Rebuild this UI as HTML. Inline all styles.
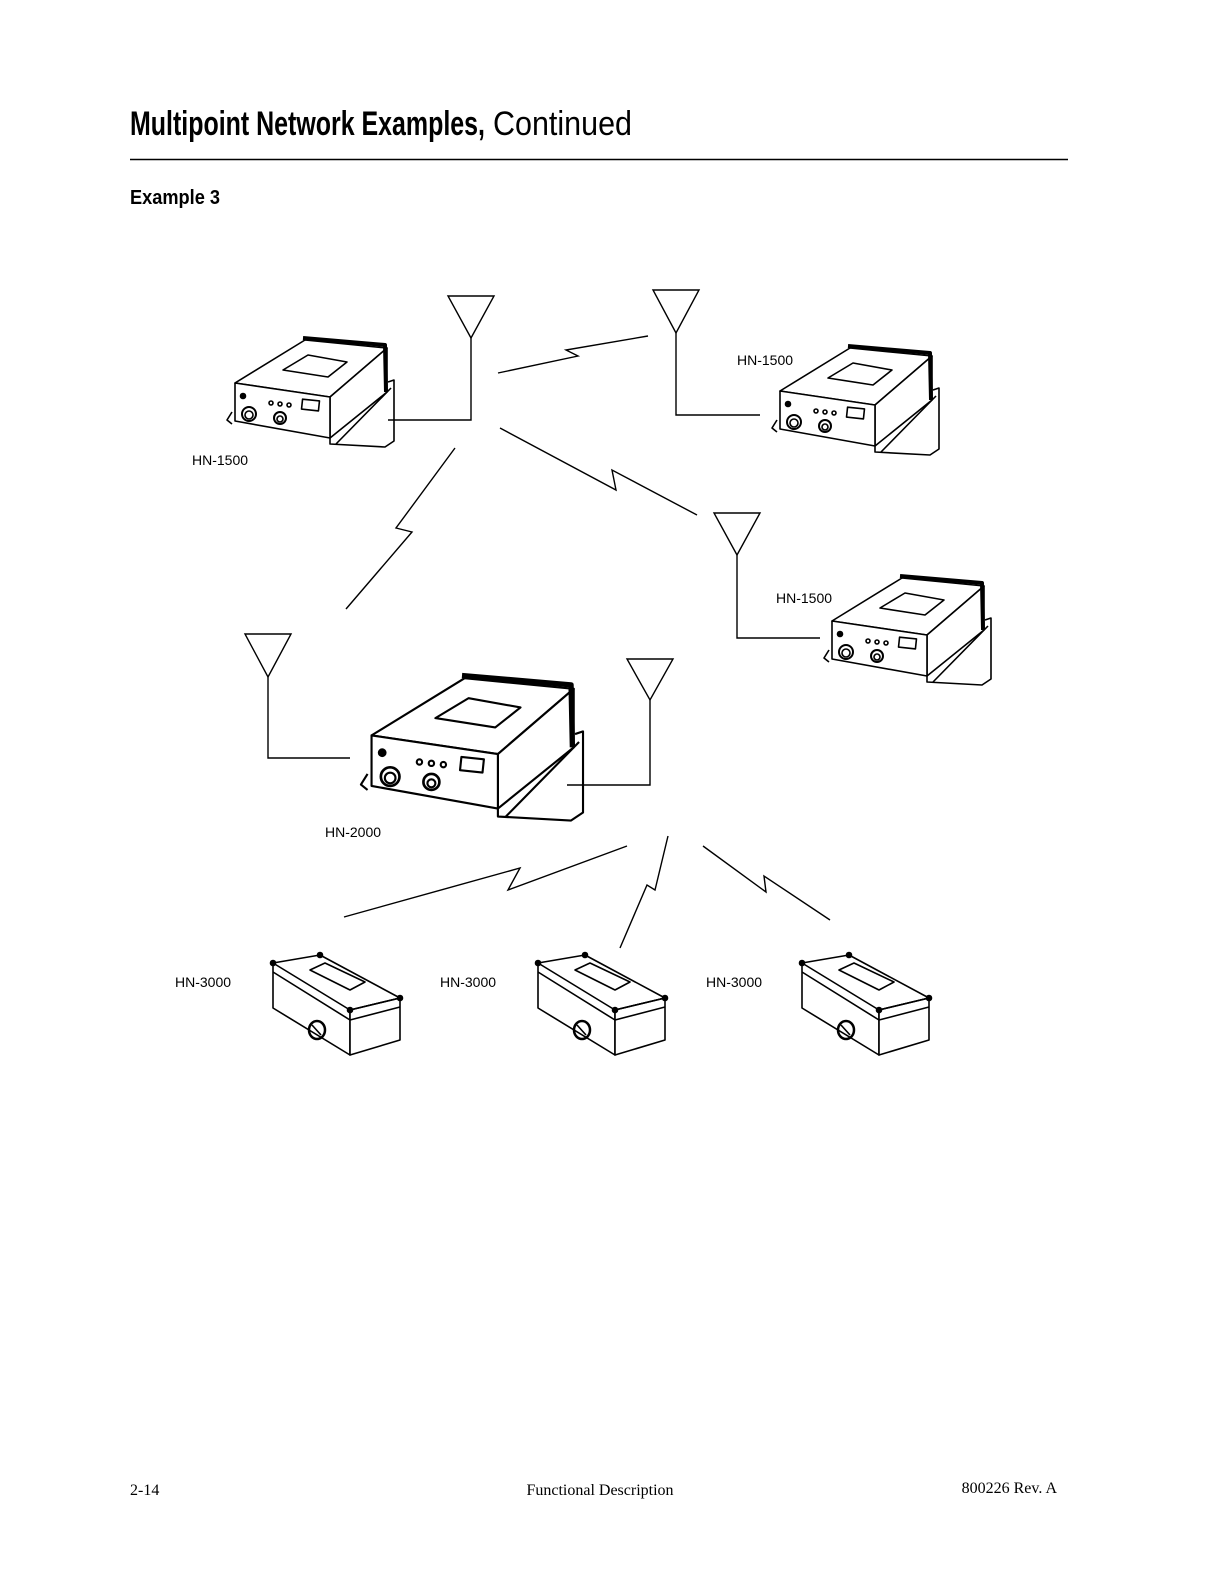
<!DOCTYPE html>
<html><head><meta charset="utf-8"><style>
html,body{margin:0;padding:0;background:#fff}
svg{display:block}
</style></head><body>
<svg width="1224" height="1584" viewBox="0 0 1224 1584" xmlns="http://www.w3.org/2000/svg" font-family="Liberation Sans, sans-serif">
<text x="130" y="135" font-size="34" font-weight="bold" textLength="355" lengthAdjust="spacingAndGlyphs">Multipoint Network Examples,</text>
<text x="493" y="135" font-size="34" textLength="139" lengthAdjust="spacingAndGlyphs">Continued</text>
<line x1="130" y1="159.5" x2="1068" y2="159.5" stroke="#000" stroke-width="1.5"/>
<text x="130" y="204" font-size="20" font-weight="bold" textLength="90" lengthAdjust="spacingAndGlyphs">Example 3</text>

<defs>
<g id="r" fill="none" stroke="#000" stroke-width="1.6" stroke-linejoin="round">
<polygon points="235,383 305,340 387,348 330,397" fill="#fff"/>
<polygon points="330,397 387,348 387,392 330,438" fill="#fff"/>
<polygon points="235,383 330,397 330,438 235,421" fill="#fff"/>
<polyline points="303,338 385,345 386,392" stroke-width="4"/>
<polygon points="283,370 308,355 347,362 328,377"/>
<polyline points="330,438 330,444 385,447 394,441 394,380 388,382"/>
<line x1="336" y1="444" x2="391" y2="388"/>
<polyline points="232,424 227,420 232,412"/>
<circle cx="243" cy="396" r="2.5" fill="#000"/>
<circle cx="249" cy="414" r="7" stroke-width="2"/><circle cx="249" cy="415" r="4"/>
<circle cx="280" cy="418" r="6" stroke-width="2"/><circle cx="280" cy="419" r="3"/>
<circle cx="271" cy="403" r="2"/><circle cx="280" cy="404" r="2"/><circle cx="289" cy="405" r="2"/>
<rect x="302" y="400" width="17" height="10" transform="rotate(6 310 405)"/>
</g>
<g id="b" fill="none" stroke="#000" stroke-width="1.6" stroke-linejoin="round">
<polygon points="273,963 320,955 400,998 350,1010 350,1055 273,1008" fill="#fff"/>
<polygon points="350,1010 400,998 400,1040 350,1055" fill="#fff"/>
<polyline points="273,972 350,1020 400,1007"/>
<polygon points="310,970 325,963 365,982 350,990"/>
<polyline points="273,963 350,1010 400,998"/>
<circle cx="273" cy="963" r="2.5" fill="#000"/><circle cx="320" cy="955" r="2.5" fill="#000"/>
<circle cx="400" cy="998" r="2.5" fill="#000"/><circle cx="350" cy="1010" r="2.5" fill="#000"/>
<ellipse cx="317" cy="1030" rx="8" ry="9" stroke-width="2.5"/>
<line x1="312" y1="1025" x2="321" y2="1035"/>
</g>
</defs>

<use href="#r"/>
<use href="#r" transform="translate(545,8)"/>
<use href="#r" transform="translate(597,238)"/>
<use href="#r" transform="translate(59,226) scale(1.33)"/>
<use href="#b"/>
<use href="#b" transform="translate(265,0)"/>
<use href="#b" transform="translate(529,0)"/>

<g fill="none" stroke="#000" stroke-width="1.4">
<polygon points="448,296 494,296 471,338"/><polyline points="471,338 471,420 388,420"/>
<polygon points="653,290 699,290 676,333"/><polyline points="676,333 676,415 760,415"/>
<polygon points="714,513 760,513 737,555"/><polyline points="737,555 737,638 820,638"/>
<polygon points="245,634 291,634 268,677"/><polyline points="268,677 268,758 350,758"/>
<polygon points="627,659 673,659 650,700"/><polyline points="650,700 650,785 567,785"/>
<polyline points="498,373 578,356 566,350 648,336"/>
<polyline points="500,428 616,490 612,470 697,515"/>
<polyline points="455,448 396,528 412,532 346,609"/>
<polyline points="344,917 520,868 508,890 627,846"/>
<polyline points="620,948 647,885 655,890 668,836"/>
<polyline points="703,846 766,892 764,876 830,920"/>
</g>

<g font-size="14">
<text x="192" y="465">HN-1500</text>
<text x="737" y="365">HN-1500</text>
<text x="776" y="603">HN-1500</text>
<text x="325" y="837">HN-2000</text>
<text x="175" y="987">HN-3000</text>
<text x="440" y="987">HN-3000</text>
<text x="706" y="987">HN-3000</text>
</g>

<g font-family="Liberation Serif, serif" font-size="16">
<text x="130" y="1495">2-14</text>
<text x="600" y="1495" text-anchor="middle">Functional Description</text>
<text x="1057" y="1493" text-anchor="end">800226 Rev. A</text>
</g>
</svg>
</body></html>
